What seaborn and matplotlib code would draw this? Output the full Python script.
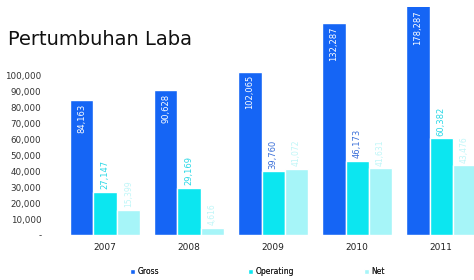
import pandas as pd
import numpy as np
import matplotlib
matplotlib.use("Agg")
import matplotlib.pyplot as plt
import seaborn as sns
from matplotlib.ticker import FuncFormatter

# Data
years = ["2007", "2008", "2009", "2010", "2011"]
gross = [84163, 90628, 102065, 132287, 178287]
operating = [27147, 29169, 39760, 46173, 60382]
net = [15399, 4616, 41072, 41631, 43476]
series = ["Gross", "Operating", "Net"]
y_ticks = [0, 10000, 20000, 30000, 40000, 50000, 60000, 70000, 80000, 90000, 100000]

df = pd.DataFrame({
    "Tahun": years * 3,
    "Seri": [s for s in series for _ in years],
    "Nilai": gross + operating + net,
})

colors = ["#1565f5", "#0ce6f0", "#a6f5f8"]
op_label_colors = ["#2ad8e6", "#2ad8e6", "#3a6fd8", "#3a6fd8", "#2ad8e6"]

sns.set_theme(style="white")
plt.rcParams["font.family"] = ["DejaVu Sans"]

fig = plt.figure(figsize=(4.74, 2.80), dpi=100)
ax = fig.add_axes([58 / 474, 1 - 235 / 280, 1 - 58 / 474, 228 / 280])

sns.barplot(data=df, x="Tahun", y="Nilai", hue="Seri", palette=colors,
            width=0.83, saturation=1, ax=ax, legend=True)

ymax = 142500
ax.set_ylim(0, ymax)
ax.set_xlim(-0.56, 4.39)
ax.set_yticks(y_ticks)
ax.yaxis.set_major_formatter(FuncFormatter(lambda v, p: "-" if v == 0 else f"{int(v):,}"))
ax.tick_params(axis="y", labelsize=6.3, colors="#333333", pad=12, length=0)
ax.tick_params(axis="x", labelsize=6.5, colors="#222222", pad=6, length=0)
ax.set_xlabel("")
ax.set_ylabel("")
for s in ax.spines.values():
    s.set_visible(False)

# value labels
for i, cont in enumerate(ax.containers):
    for j, bar in enumerate(cont):
        h = bar.get_height()
        xc = bar.get_x() + bar.get_width() / 2
        txt = f"{int(h):,}"
        if i == 0:
            ax.text(xc, min(h, ymax) - 2200, txt, rotation=90, ha="center", va="top",
                    color="white", fontsize=6)
        elif i == 1:
            ax.text(xc, h + 1800, txt, rotation=90, ha="center", va="bottom",
                    color=op_label_colors[j], fontsize=6)
        else:
            ax.text(xc, h + 1800, txt, rotation=90, ha="center", va="bottom",
                    color="#bff6f8", fontsize=5.5)

# legend at bottom, one entry per position
handles, labels = ax.get_legend_handles_labels()
ax.get_legend().remove()
leg_x = [126, 244, 360]
for hnd, lab, lx in zip(handles, labels, leg_x):
    lg = fig.legend([hnd], [lab], loc="lower left", bbox_to_anchor=(lx / 474, 0.0),
                    frameon=False, fontsize=5.5, handlelength=0.7, handleheight=0.7,
                    handletextpad=0.3, borderpad=0.3, borderaxespad=0.2)
    fig.add_artist(lg)

fig.text(8 / 474, 1 - 40 / 280, "Pertumbuhan Laba", fontsize=14, color="#111111",
         va="center", ha="left")

fig.savefig("out.png", dpi=100)
